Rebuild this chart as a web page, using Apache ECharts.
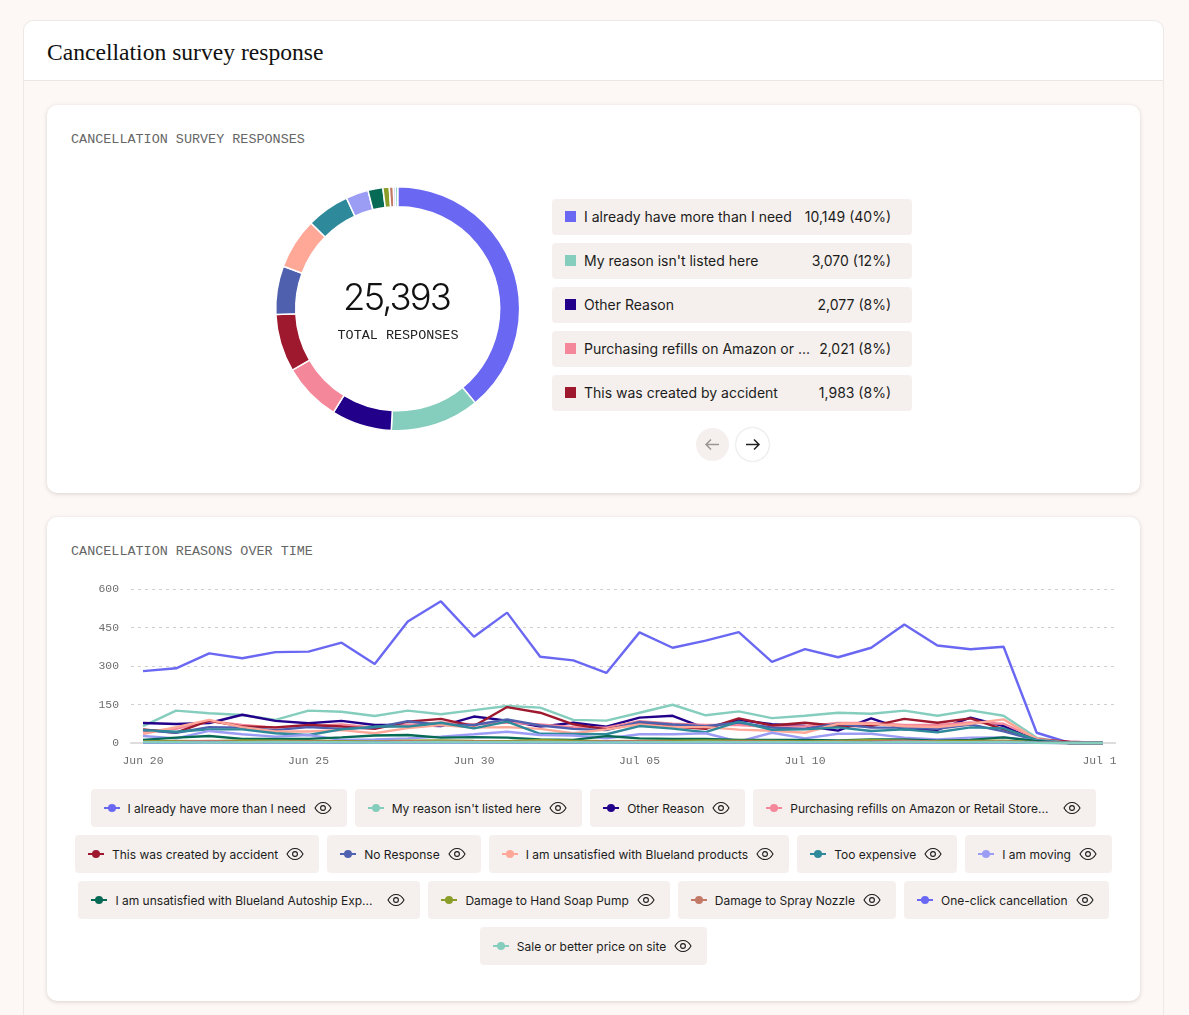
<!DOCTYPE html>
<html>
<head>
<meta charset="utf-8">
<script src="https://cdn.jsdelivr.net/npm/echarts@6/dist/echarts.min.js"></script>
<style>
html,body{margin:0;padding:0;width:1189px;height:1015px;overflow:hidden;background:#fdf8f6;font-family:Inter,"Noto Sans",sans-serif;color:#1c1c1c}
.abs{position:absolute;box-sizing:border-box}
#outer{left:23px;top:20px;width:1141px;height:1100px;border:1px solid #ece9e7;border-radius:10px;background:#fdf8f6}
#head{left:24px;top:21px;width:1139px;height:60px;background:#fff;border-bottom:1px solid #e9e6e4;border-radius:10px 10px 0 0}
#h1{left:47px;top:39px;font:23.6px "Liberation Serif",serif;color:#111;white-space:nowrap;line-height:26px}
.card{background:#fff;border-radius:10px;box-shadow:0 1px 4px rgba(60,40,30,.18)}
.mono{font-family:"Liberation Mono",monospace;white-space:nowrap}
.ctitle{font-size:13.45px;color:#666;line-height:16px}
#pieBox{left:47px;top:105px;width:490px;height:388px}
#lineBox{left:47px;top:517px;width:1069px;height:260px}
#bigNum{left:296.5px;width:200px;top:275px;text-align:center;font-size:36.5px;font-weight:300;letter-spacing:-1.9px;line-height:44px;color:#111}
#bigLab{left:298px;width:200px;top:328px;text-align:center;font-size:13.45px;color:#222;line-height:16px}
.row{left:552px;width:360px;height:36px;background:#f5f0ed;border-radius:4px;font-size:14px;line-height:36px;white-space:nowrap}
.row i{position:absolute;left:13px;top:12px;width:11px;height:11px;box-sizing:content-box}
.row .t{position:absolute;left:32px}
.row .v{position:absolute;right:21px}
.btn{width:33px;height:33px;border-radius:50%;top:428px}
.chips{left:59px;width:1069px;display:flex;justify-content:center;gap:8px}
.chip{height:38px;background:#f5f0ed;border-radius:4px;font-size:12px;display:flex;align-items:center;padding:0 15px 0 13px;white-space:nowrap}
.chip .cut{margin-right:7px}
.mark{position:relative;width:16px;height:2px;margin-right:8px;flex:none}
.mark:after{content:"";position:absolute;left:4px;top:-3px;width:8px;height:8px;border-radius:50%;background:inherit}
.chip svg{margin-left:8px;flex:none}
</style>
</head>
<body>
<div class="abs" id="outer"></div>
<div class="abs" id="head"></div>
<div class="abs" id="h1">Cancellation survey response</div>
<div class="abs card" style="left:47px;top:105px;width:1093px;height:388px"></div>
<div class="abs card" style="left:47px;top:517px;width:1093px;height:484px"></div>
<div class="abs mono ctitle" style="left:71px;top:132px">CANCELLATION SURVEY RESPONSES</div>
<div class="abs mono ctitle" style="left:71px;top:544px">CANCELLATION REASONS OVER TIME</div>
<div class="abs" id="pieBox"></div>
<div class="abs" id="lineBox"></div>
<div class="abs" id="bigNum">25,393</div>
<div class="abs mono" id="bigLab">TOTAL RESPONSES</div>
<div id="rows"></div>
<div class="abs btn" style="left:696px;background:#f5f0ed">
<svg width="33" height="33" viewBox="0 0 33 33" fill="none" stroke="#9a9694" stroke-width="1.5"><path d="M23 16.5H10M15 11.5l-5 5 5 5"/></svg></div>
<div class="abs btn" style="left:736px;background:#fff;box-shadow:0 0 2px rgba(0,0,0,.25)">
<svg width="33" height="33" viewBox="0 0 33 33" fill="none" stroke="#222" stroke-width="1.5"><path d="M10 16.5h13M18 11.5l5 5-5 5"/></svg></div>
<div id="chipRows"></div>

<script>
const dayLabels = ["Jun 20","Jun 25","Jun 30","Jul 05","Jul 10","Jul 19"];
const dayIndexes = [0,5,10,15,20,29];
const yTicks = [0,150,300,450,600];

const names = ["I already have more than I need","My reason isn't listed here","Other Reason","Purchasing refills on Amazon or Retail Store...","This was created by accident","No Response","I am unsatisfied with Blueland products","Too expensive","I am moving","I am unsatisfied with Blueland Autoship Exp...","Damage to Hand Soap Pump","Damage to Spray Nozzle","One-click cancellation","Sale or better price on site"];
const colors = ["#6a68f2","#85cdbd","#22008a","#f4889a","#9e182e","#4f60af","#ffa898","#2e8a9a","#9b9df5","#066a55","#8a9e29","#c27a66","#6a68f2","#85cdbd"];

const ringValues = [10149,3070,2077,2021,1983,1672,1753,1482,775,512,219,139,66,82];

const topNames = ["I already have more than I need","My reason isn't listed here","Other Reason","Purchasing refills on Amazon or ...","This was created by accident"];
const topValues = ["10,149 (40%)","3,070 (12%)","2,077 (8%)","2,021 (8%)","1,983 (8%)"];

const already = [280,291,349,330,354,356,391,308,473,552,414,508,336,322,273,431,371,399,432,316,366,334,371,462,380,365,375,40,0,0];
const notListed = [66,126,116,109,90,126,122,105,126,112,128,144,138,90,87,118,149,108,123,97,106,118,114,126,106,127,106,20,0,0];
const otherReason = [78,74,78,110,86,77,86,70,70,66,103,87,64,79,64,99,106,57,90,73,66,48,96,53,51,99,66,10,0,0];
const refills = [45,55,85,70,60,65,72,60,70,80,72,80,72,62,60,85,75,70,70,62,65,78,78,70,70,80,75,18,0,0];
const accident = [53,40,87,64,61,70,64,55,83,94,66,140,118,73,53,77,64,55,96,68,79,66,66,94,79,96,53,14,5,0];
const noResponse = [50,40,62,60,50,62,55,60,85,70,70,92,68,55,50,82,72,65,80,60,55,75,60,60,55,72,45,10,0,0];
const unsatisfied = [35,62,90,62,45,45,50,38,58,70,60,62,55,38,53,72,62,62,52,48,40,75,75,65,62,75,92,15,0,0];
const tooExpensive = [50,44,53,53,38,31,53,64,64,79,57,83,36,35,34,66,56,42,83,51,53,61,47,53,42,61,57,12,0,0];
const moving = [27,18,47,34,25,31,12,14,18,25,34,44,31,29,18,34,34,38,5,40,18,36,36,21,14,21,22,9,0,0];
const autoship = [12,21,27,16,16,16,22,29,31,21,23,21,14,12,27,18,16,16,12,12,12,10,14,14,9,12,22,8,0,0];
const handSoap = [6,8,7,10,9,8,7,6,9,10,8,7,12,9,7,8,9,10,9,8,6,8,12,8,7,8,9,3,0,0];
const sprayNozzle = [4,5,8,4,5,6,4,5,7,5,6,4,5,4,6,7,5,4,6,5,4,5,6,9,5,4,6,2,0,0];
const oneClick = [2,3,2,3,2,3,2,3,2,3,2,3,2,3,2,3,2,3,2,3,2,3,2,3,2,3,2,1,0,0];
const salePrice = [3,3,2,3,4,3,3,2,3,4,3,3,4,3,2,3,3,4,3,3,3,3,2,4,3,3,4,1,0,0];
const seriesValues = [already,notListed,otherReason,refills,accident,noResponse,unsatisfied,tooExpensive,moving,autoship,handSoap,sprayNozzle,oneClick,salePrice];

const chipRowsSpec = [[0,1,2,3],[4,5,6,7,8],[9,10,11,12],[13]];
const chipRowTops = [789,835,881,927];

const rowsEl = document.getElementById('rows');
topNames.forEach((n,k)=>{
  const r=document.createElement('div');r.className='abs row';r.style.top=(199+44*k)+'px';
  r.innerHTML='<i style="background:'+colors[k]+'"></i><span class="t"></span><span class="v"></span>';
  r.querySelector('.t').textContent=n;r.querySelector('.v').textContent=topValues[k];
  rowsEl.appendChild(r);
});
const eye='<svg width="18" height="14" viewBox="0 0 18 14" fill="none" stroke="#1c1c1c" stroke-width="1.1"><path d="M1 7C3 3.4 5.8 1.5 9 1.5S15 3.4 17 7c-2 3.6-4.8 5.5-8 5.5S3 10.6 1 7z"/><circle cx="9" cy="7" r="2.4"/></svg>';
const chipHost=document.getElementById('chipRows');
chipRowsSpec.forEach((row,ri)=>{
  const w=document.createElement('div');w.className='abs chips';w.style.top=chipRowTops[ri]+'px';
  row.forEach(k=>{
    const c=document.createElement('div');c.className='chip';
    c.innerHTML='<span class="mark" style="background:'+colors[k]+'"></span><span class="n"></span>'+eye;
    const s=c.querySelector('.n');s.textContent=names[k];
    if(names[k].endsWith('...'))s.className='n cut';
    w.appendChild(c);
  });
  chipHost.appendChild(w);
});

const pie = echarts.init(document.getElementById('pieBox'),null,{renderer:'canvas'});
pie.setOption({
  animation:false,
  series:[{
    type:'pie',
    center:[350.7,203.7],
    radius:[102,122],
    startAngle:90,
    clockwise:true,
    label:{show:false},
    labelLine:{show:false},
    silent:true,
    itemStyle:{borderColor:'#fff',borderWidth:1.5},
    data:names.map((n,k)=>({name:n,value:ringValues[k],itemStyle:{color:colors[k]}}))
  }]
});

const line = echarts.init(document.getElementById('lineBox'),null,{renderer:'canvas'});
const monoLabel={fontFamily:'Liberation Mono',fontSize:11.4,color:'#6e6e6e'};
line.setOption({
  animation:false,
  grid:{left:84,right:0,top:72,height:154,outerBoundsMode:'none'},
  xAxis:{
    type:'value',min:-0.3625,max:29.396,
    splitLine:{show:false},
    axisTick:{show:false},
    axisLine:{show:true,onZero:true,lineStyle:{color:'#dddddd',width:2}},
    axisLabel:Object.assign({},monoLabel,{
      margin:12,
      customValues:dayIndexes,
      showMinLabel:true,showMaxLabel:true,
      hideOverlap:false,
      formatter:v=>dayLabels[dayIndexes.indexOf(v)]
    })
  },
  yAxis:{
    type:'value',min:0,max:600,interval:150,
    axisLine:{show:false},axisTick:{show:false},
    axisLabel:Object.assign({},monoLabel,{margin:12,formatter:v=>String(yTicks[yTicks.indexOf(v)])}),
    splitLine:{lineStyle:{color:'#cfcfcf',type:[3,4],width:1}}
  },
  series:names.map((n,k)=>({
    name:n,type:'line',showSymbol:false,silent:true,clip:false,
    lineStyle:{width:2.4,color:colors[k]},itemStyle:{color:colors[k]},
    data:seriesValues[k].map((v,i)=>[i,v])
  }))
});
</script>
</body>
</html>
